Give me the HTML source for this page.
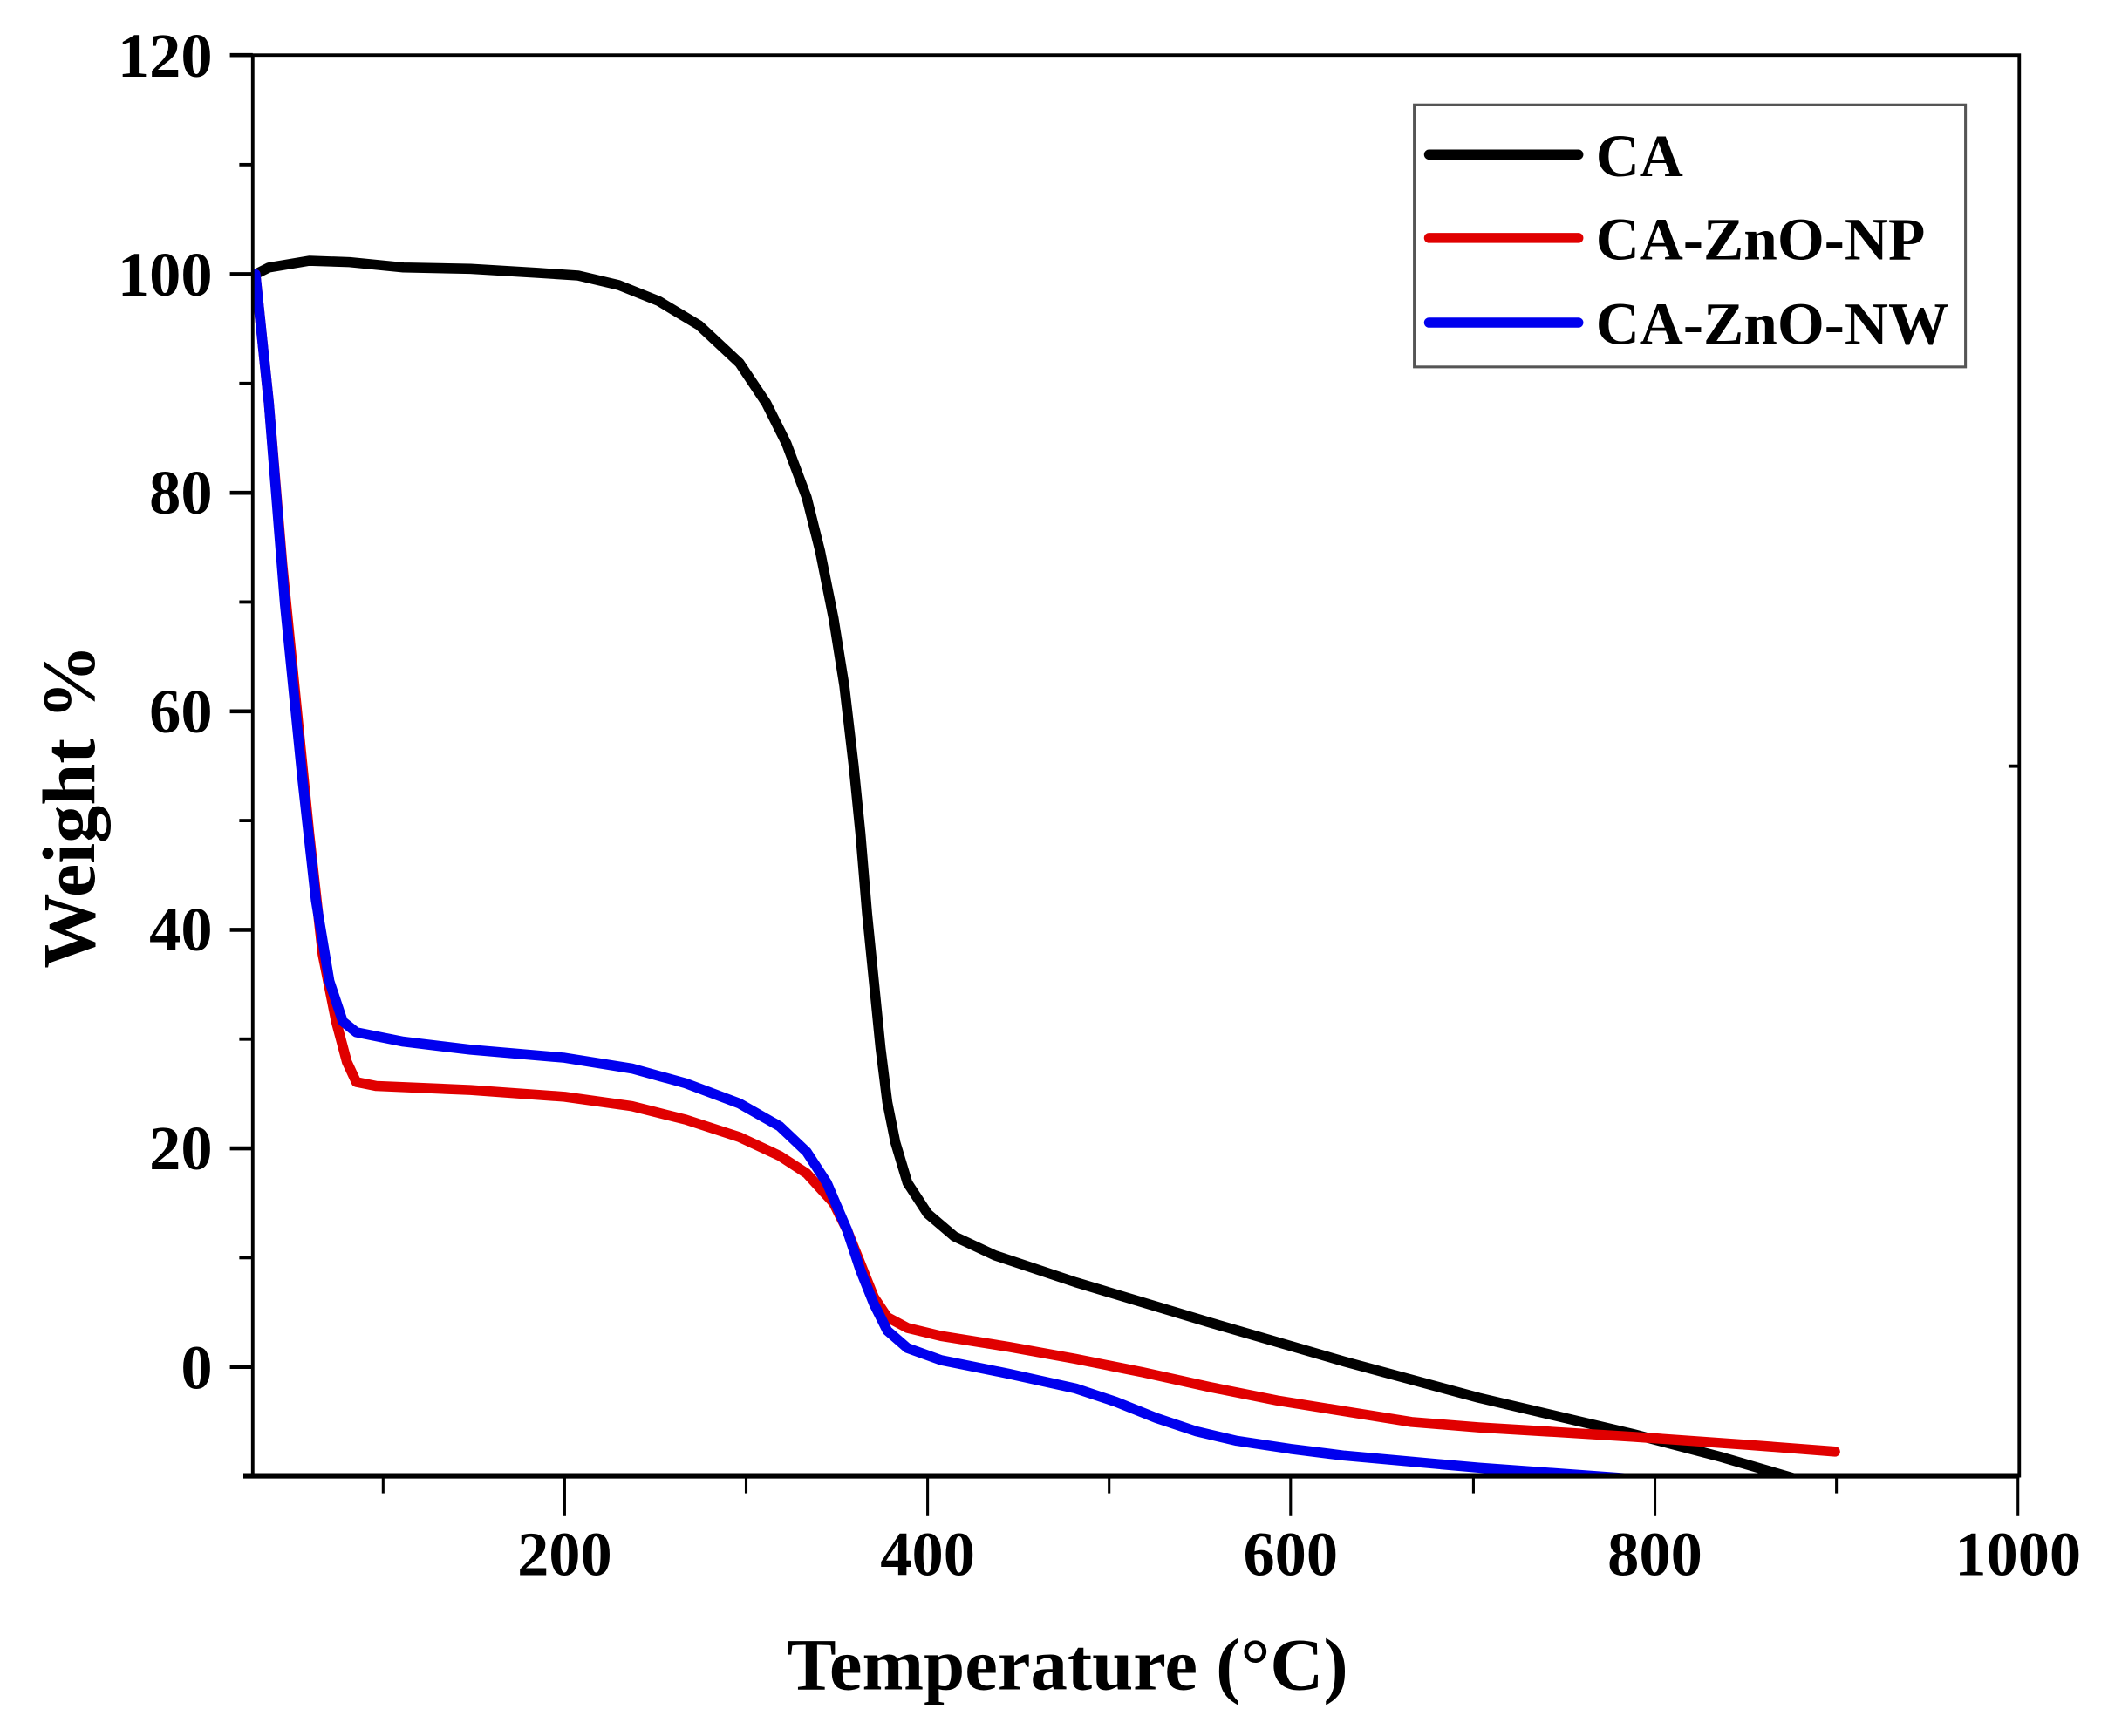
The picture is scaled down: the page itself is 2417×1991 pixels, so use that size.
<!DOCTYPE html>
<html><head><meta charset="utf-8"><style>html,body{margin:0;padding:0;background:#fff}svg{display:block}</style></head>
<body>
<svg width="2417" height="1991" viewBox="0 0 1568 1291.6" xmlns="http://www.w3.org/2000/svg" font-family="Liberation Serif, serif" font-weight="bold">
<defs><clipPath id="c"><rect x="188" y="41" width="1314" height="1057"/></clipPath></defs>
<g clip-path="url(#c)" fill="none" stroke-width="7.5" stroke-linejoin="round" stroke-linecap="round">
<polyline stroke="#000" points="190,204 200,199 230,194 260,195 300,199 350,200 400,203 430,205 460,212 490,224 520,242 550,270 570,300 585,330 600,370 610,410 620,460 628,510 635,570 640,620 645,680 650,730 655,780 660,820 666,850 675,880 690,903 710,920 740,934 800,954 900,984 1000,1013 1100,1040 1215,1067 1280,1084 1335,1100"/>
<polyline stroke="#e00000" points="190,204 200,300 210,420 220,520 230,620 240,710 250,760 258,790 265,805 280,808 350,811 420,816 470,823 510,833 550,846 580,860 600,873 620,895 630,915 640,940 650,965 660,980 675,988 700,994 750,1002 800,1011 850,1021 900,1032 950,1042 1000,1050 1050,1058 1100,1062 1150,1065 1215,1069 1300,1075 1365,1080"/>
<polyline stroke="#0000ee" points="190,204 200,300 212,450 225,580 235,670 245,730 255,760 265,768 300,775 350,781 420,787 470,795 510,806 550,821 580,838 600,857 615,880 630,915 640,945 650,970 660,990 675,1003 700,1012 750,1022 800,1033 830,1043 860,1055 890,1065 920,1072 960,1078 1000,1083 1100,1092 1170,1097 1225,1101"/>
</g>
<g stroke="#000" fill="none">
<rect x="188" y="41" width="1314" height="1057" stroke-width="2.5"/>
<line x1="181" y1="1098" x2="1502" y2="1098" stroke-width="4"/>
<line x1="171" y1="41" x2="188" y2="41" stroke-width="3"/>
<line x1="171" y1="204" x2="188" y2="204" stroke-width="3"/>
<line x1="171" y1="366.6" x2="188" y2="366.6" stroke-width="3"/>
<line x1="171" y1="529.2" x2="188" y2="529.2" stroke-width="3"/>
<line x1="171" y1="691.8" x2="188" y2="691.8" stroke-width="3"/>
<line x1="171" y1="854.4" x2="188" y2="854.4" stroke-width="3"/>
<line x1="171" y1="1017" x2="188" y2="1017" stroke-width="3"/>
<g stroke-width="2.5">
<line x1="178" y1="122.5" x2="188" y2="122.5"/><line x1="178" y1="285.3" x2="188" y2="285.3"/>
<line x1="178" y1="447.9" x2="188" y2="447.9"/><line x1="178" y1="610.5" x2="188" y2="610.5"/>
<line x1="178" y1="773.1" x2="188" y2="773.1"/><line x1="178" y1="935.7" x2="188" y2="935.7"/>
<line x1="1502" y1="570" x2="1494" y2="570"/>
</g>
<g stroke-width="2">
<line x1="420" y1="1098" x2="420" y2="1128"/><line x1="690" y1="1098" x2="690" y2="1128"/>
<line x1="960" y1="1098" x2="960" y2="1128"/><line x1="1231" y1="1098" x2="1231" y2="1128"/>
<line x1="1501" y1="1098" x2="1501" y2="1128"/>
<line x1="285" y1="1098" x2="285" y2="1111"/><line x1="555" y1="1098" x2="555" y2="1111"/>
<line x1="825" y1="1098" x2="825" y2="1111"/><line x1="1096" y1="1098" x2="1096" y2="1111"/>
<line x1="1366" y1="1098" x2="1366" y2="1111"/>
</g>
<rect x="1052" y="78" width="410" height="195" stroke="#555" stroke-width="2"/>
<g stroke-width="7.5" stroke-linecap="round">
<line x1="1063" y1="115" x2="1174" y2="115" stroke="#000"/>
<line x1="1063" y1="177" x2="1174" y2="177" stroke="#e00000"/>
<line x1="1063" y1="240" x2="1174" y2="240" stroke="#0000ee"/>
</g>
</g>
<g font-size="47" fill="#000" text-anchor="end">
<text x="158" y="57">120</text><text x="158" y="220">100</text><text x="158" y="382">80</text>
<text x="158" y="545">60</text><text x="158" y="707">40</text><text x="158" y="870">20</text>
<text x="158" y="1033">0</text>
</g>
<g font-size="47" fill="#000" text-anchor="middle">
<text x="420" y="1172">200</text><text x="690" y="1172">400</text><text x="960" y="1172">600</text>
<text x="1231" y="1172">800</text><text x="1501" y="1172">1000</text>
</g>
<text x="794" y="1257" font-size="55" text-anchor="middle">Temperature (°C)</text>
<text transform="translate(70,600) rotate(-90)" font-size="56" text-anchor="middle">Weight %</text>
<g font-size="45" fill="#000">
<text x="1187" y="131">CA</text><text x="1187" y="193">CA-ZnO-NP</text><text x="1187" y="256">CA-ZnO-NW</text>
</g>
</svg>
</body></html>
